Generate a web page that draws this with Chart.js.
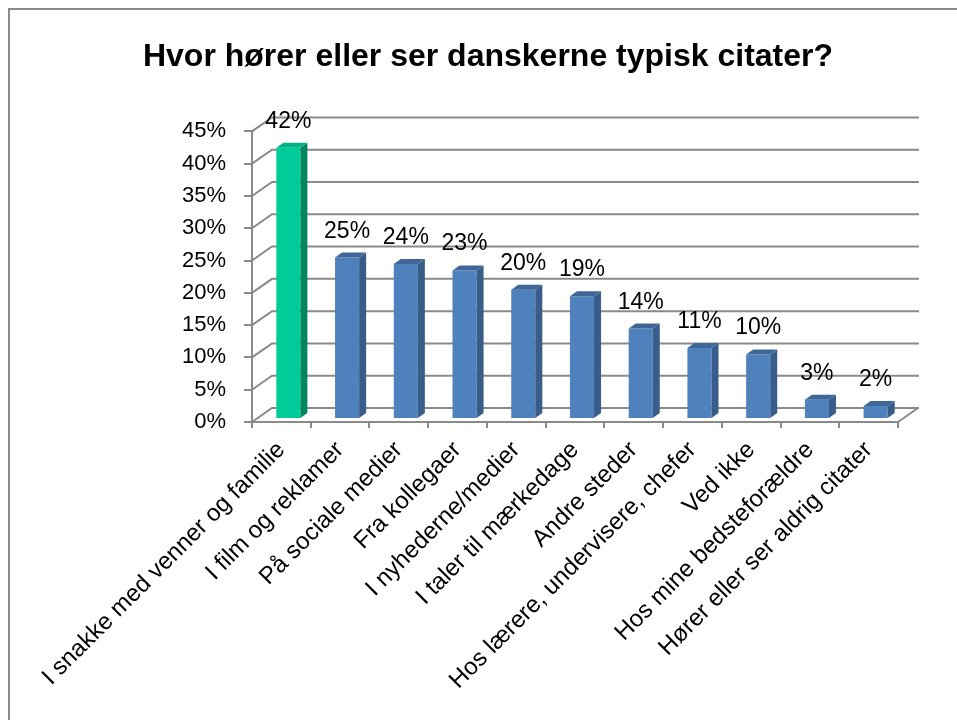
<!DOCTYPE html>
<html>
<head>
<meta charset="utf-8">
<script src="https://cdn.jsdelivr.net/npm/chart.js@4.4.1/dist/chart.umd.min.js"></script>
<style>
  html, body { margin: 0; padding: 0; background: #fff; }
</style>
</head>
<body>
<canvas id="chart" width="957" height="720"></canvas>
<script>
const chartTitle = 'Hvor hører eller ser danskerne typisk citater?';
const categories = [
    'I snakke med venner og familie',
    'I film og reklamer',
    'På sociale medier',
    'Fra kollegaer',
    'I nyhederne/medier',
    'I taler til mærkedage',
    'Andre steder',
    'Hos lærere, undervisere, chefer',
    'Ved ikke',
    'Hos mine bedsteforældre',
    'Hører eller ser aldrig citater'
];
const shares = [42, 25, 24, 23, 20, 19, 14, 11, 10, 3, 2];
const yTicks = [0, 5, 10, 15, 20, 25, 30, 35, 40, 45];

(function() {
    const font = 'Liberation Sans';
    const gray = '#8a8a8a';

    // 3d look: back wall offset and bar depth
    const wall = { dx: 20, dy: -14, right: 919 };
    const barShift = { dx: 7, dy: -3 };
    const depth = { dx: 7, dy: -5 };

    const face = ['#00CC99', '#4F81BD'];
    const side = ['#00875F', '#385D8A'];
    const top = ['#00B386', '#3E6797'];
    const pick = (arr, i) => i === 0 ? arr[0] : arr[1];

    const frame = {
        id: 'frame',
        beforeDraw(chart) {
            const ctx = chart.ctx;
            ctx.save();
            ctx.fillStyle = '#fff';
            ctx.fillRect(0, 0, chart.width, chart.height);
            ctx.strokeStyle = gray;
            ctx.lineWidth = 2;
            ctx.beginPath();
            ctx.moveTo(9, chart.height);
            ctx.lineTo(9, 9);
            ctx.lineTo(chart.width, 9);
            ctx.stroke();
            ctx.restore();
        }
    };

    const box3d = {
        id: 'box3d',
        beforeDatasetsDraw(chart) {
            const ctx = chart.ctx;
            const area = chart.chartArea;
            const y = chart.scales.y;
            ctx.save();
            ctx.strokeStyle = gray;
            ctx.lineWidth = 2;
            yTicks.forEach(v => {
                const py = y.getPixelForValue(v);
                ctx.beginPath();
                ctx.moveTo(area.left, py);
                ctx.lineTo(area.left + wall.dx, py + wall.dy);
                ctx.lineTo(wall.right, py + wall.dy);
                ctx.stroke();
            });
            ctx.beginPath();
            ctx.moveTo(area.right, area.bottom);
            ctx.lineTo(area.right + wall.dx, area.bottom + wall.dy);
            ctx.stroke();
            ctx.restore();

            ctx.save();
            ctx.translate(barShift.dx, barShift.dy);
        },
        afterDatasetsDraw(chart) {
            const ctx = chart.ctx;
            const bars = chart.getDatasetMeta(0).data;
            bars.forEach((bar, i) => {
                const p = bar.getProps(['x', 'y', 'base', 'width'], true);
                const l = p.x - p.width / 2;
                const r = p.x + p.width / 2;

                ctx.fillStyle = pick(side, i);
                ctx.beginPath();
                ctx.moveTo(r, p.y);
                ctx.lineTo(r + depth.dx, p.y + depth.dy);
                ctx.lineTo(r + depth.dx, p.base + depth.dy);
                ctx.lineTo(r, p.base);
                ctx.closePath();
                ctx.fill();

                ctx.fillStyle = pick(top, i);
                ctx.beginPath();
                ctx.moveTo(l, p.y);
                ctx.lineTo(r, p.y);
                ctx.lineTo(r + depth.dx, p.y + depth.dy);
                ctx.lineTo(l + depth.dx, p.y + depth.dy);
                ctx.closePath();
                ctx.fill();

                ctx.fillStyle = '#000';
                ctx.font = '23px "' + font + '"';
                ctx.textAlign = 'center';
                ctx.textBaseline = 'alphabetic';
                ctx.fillText(shares[i] + '%', p.x, p.y - 20);
            });
            ctx.restore();
        }
    };

    const data = {
        labels: categories,
        datasets: [{
            data: shares,
            backgroundColor: ctx => pick(face, ctx.dataIndex),
            barPercentage: 0.41,
            categoryPercentage: 1
        }]
    };

    const options = {
        responsive: false,
        animation: false,
        devicePixelRatio: 1,
        layout: { padding: { left: 78, right: 59, top: 0, bottom: 0 } },
        plugins: {
            legend: { display: false },
            tooltip: { enabled: false },
            title: {
                display: true,
                text: chartTitle,
                color: '#000',
                font: { family: font, size: 32, weight: 'bold' },
                padding: { top: 38, bottom: 55 }
            }
        },
        scales: {
            x: {
                grid: { drawOnChartArea: false, color: gray, lineWidth: 2, tickLength: 6 },
                border: { color: gray, width: 2 },
                ticks: {
                    color: '#000',
                    font: { family: font, size: 24 },
                    minRotation: 45,
                    maxRotation: 45,
                    autoSkip: false,
                    padding: 8
                },
                afterFit: scale => { scale.height = 298 }
            },
            y: {
                min: 0,
                max: 45,
                afterBuildTicks: scale => { scale.ticks = yTicks.map(v => ({ value: v })) },
                grid: { drawOnChartArea: false, color: gray, lineWidth: 2, tickLength: 8 },
                border: { color: gray, width: 2 },
                ticks: {
                    color: '#000',
                    font: { family: font, size: 22 },
                    padding: 18,
                    callback: v => v + '%'
                },
                afterFit: scale => { scale.width = 174 }
            }
        }
    };

    new Chart('chart', { type: 'bar', data, options, plugins: [frame, box3d] });
})();
</script>
</body>
</html>
